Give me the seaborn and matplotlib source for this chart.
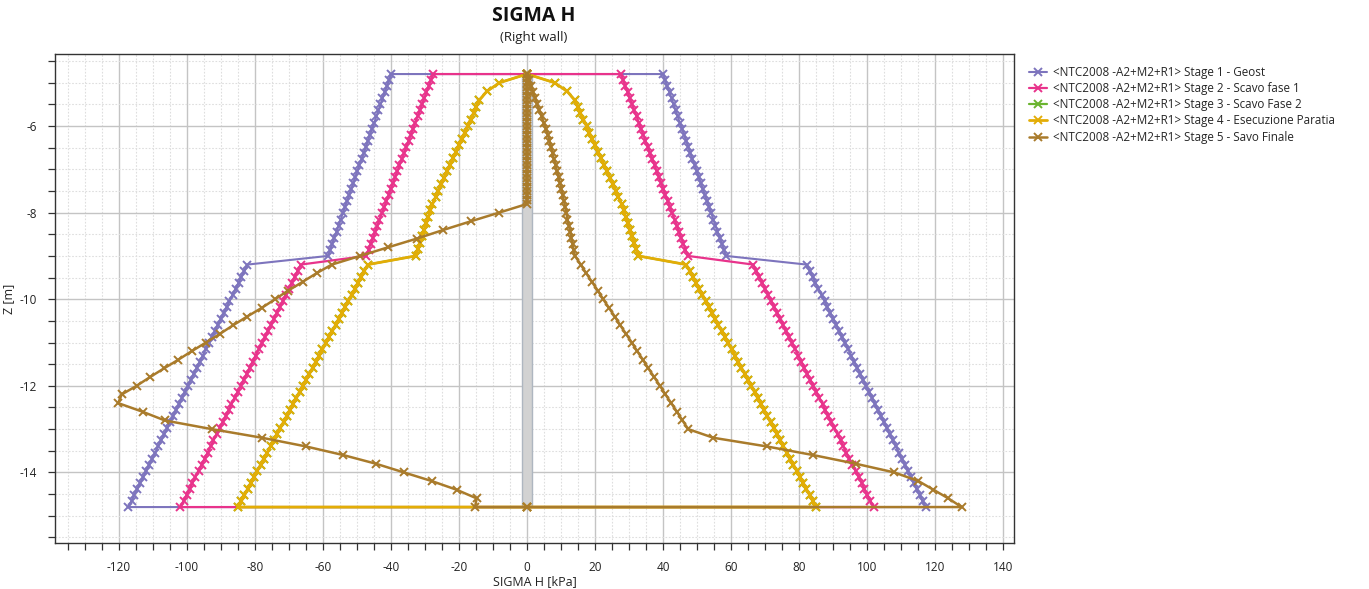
import matplotlib
matplotlib.use("Agg")
import matplotlib.pyplot as plt
from matplotlib.ticker import MultipleLocator
import pandas as pd
import seaborn as sns

# ---------------------------------------------------------------------------
# Wall geometry [m]
WALL_TOP = -4.8
WALL_BOTTOM = -14.8
WALL_HALF_WIDTH = 1.5  # drawn width of the wall strip, in kPa units

# Node depths [m]
Z_UPPER = [-4.80, -4.94, -5.08, -5.22, -5.36, -5.50, -5.64, -5.78, -5.92, -6.06,
           -6.20, -6.34, -6.48, -6.62, -6.76, -6.90, -7.04, -7.18, -7.32, -7.46,
           -7.60, -7.74, -7.88, -8.02, -8.16, -8.30, -8.44, -8.58, -8.72, -8.86,
           -9.00]
Z_LOWER = [-9.20, -9.34, -9.48, -9.62, -9.76, -9.90, -10.04, -10.18, -10.32, -10.46,
           -10.60, -10.74, -10.88, -11.02, -11.16, -11.30, -11.44, -11.58, -11.72, -11.86,
           -12.00, -12.14, -12.28, -12.42, -12.56, -12.70, -12.84, -12.98, -13.12, -13.26,
           -13.40, -13.54, -13.68, -13.82, -13.96, -14.10, -14.24, -14.38, -14.52, -14.66,
           -14.80]
Z_STAGE4_UPPER = [-4.80, -5.00, -5.20, -5.40, -5.55, -5.70, -5.85, -6.00, -6.15, -6.30,
                  -6.45, -6.60, -6.75, -6.90, -7.05, -7.20, -7.35, -7.50, -7.65, -7.80,
                  -7.95, -8.10, -8.25, -8.40, -8.55, -8.70, -8.85, -9.00]
Z_STAGE5_WALL = [-4.8, -4.9, -5.0, -5.1, -5.2, -5.3, -5.4, -5.5, -5.6, -5.7,
                 -5.8, -5.9, -6.0, -6.1, -6.2, -6.3, -6.4, -6.5, -6.6, -6.7,
                 -6.8, -6.9, -7.0, -7.1, -7.2, -7.3, -7.4, -7.5, -7.6, -7.7, -7.8]
Z_COARSE = [-7.8, -8.0, -8.2, -8.4, -8.6, -8.8, -9.0, -9.2, -9.4, -9.6,
            -9.8, -10.0, -10.2, -10.4, -10.6, -10.8, -11.0, -11.2, -11.4, -11.6,
            -11.8, -12.0, -12.2, -12.4, -12.6, -12.8, -13.0, -13.2, -13.4, -13.6,
            -13.8, -14.0, -14.2, -14.4, -14.6, -14.8]

# |SIGMA H| [kPa] -- stages 1 to 4 act equally on both faces of the wall
S1_UPPER = [40.0, 40.6, 41.2, 41.9, 42.5, 43.1, 43.7, 44.3, 44.9, 45.6,
            46.2, 46.8, 47.4, 48.0, 48.6, 49.3, 49.9, 50.5, 51.1, 51.7,
            52.3, 53.0, 53.6, 54.2, 54.8, 55.4, 56.0, 56.7, 57.3, 57.9, 58.5]
S1_LOWER = [82.2, 83.1, 84.0, 84.8, 85.7, 86.6, 87.5, 88.3, 89.2, 90.1,
            91.0, 91.8, 92.7, 93.6, 94.5, 95.3, 96.2, 97.1, 98.0, 98.8,
            99.7, 100.6, 101.5, 102.3, 103.2, 104.1, 105.0, 105.8, 106.7, 107.6,
            108.5, 109.3, 110.2, 111.1, 112.0, 112.8, 113.7, 114.6, 115.5, 116.3, 117.2]

S2_UPPER = [27.6, 28.3, 28.9, 29.6, 30.2, 30.9, 31.5, 32.2, 32.9, 33.5,
            34.2, 34.8, 35.5, 36.1, 36.8, 37.5, 38.1, 38.8, 39.4, 40.1,
            40.7, 41.4, 42.0, 42.7, 43.4, 44.0, 44.7, 45.3, 46.0, 46.6, 47.3]
S2_LOWER = [66.5, 67.4, 68.3, 69.2, 70.0, 70.9, 71.8, 72.7, 73.6, 74.5,
            75.3, 76.2, 77.1, 78.0, 78.9, 79.8, 80.7, 81.5, 82.4, 83.3,
            84.2, 85.1, 86.0, 86.9, 87.7, 88.6, 89.5, 90.4, 91.3, 92.2,
            93.0, 93.9, 94.8, 95.7, 96.6, 97.5, 98.4, 99.2, 100.1, 101.0, 101.9]

S4_UPPER = [0.0, 8.1, 11.8, 14.0, 14.9, 15.7, 16.6, 17.5, 18.3, 19.2,
            20.0, 20.9, 21.8, 22.6, 23.5, 24.4, 25.2, 26.1, 26.9, 27.8,
            28.4, 29.0, 29.6, 30.3, 30.9, 31.5, 32.1, 32.7]
S4_LOWER = [46.8, 47.8, 48.7, 49.7, 50.6, 51.6, 52.5, 53.5, 54.4, 55.4,
            56.3, 57.3, 58.3, 59.2, 60.2, 61.1, 62.1, 63.0, 64.0, 64.9,
            65.9, 66.9, 67.8, 68.8, 69.7, 70.7, 71.6, 72.6, 73.5, 74.5,
            75.4, 76.4, 77.4, 78.3, 79.3, 80.2, 81.2, 82.1, 83.1, 84.0, 85.0]

S3_UPPER = list(S4_UPPER)
S3_LOWER = list(S4_LOWER)

# Stage 5: left face (excavation side) on Z_COARSE, right face on Z_UPPER + Z_COARSE[6:]
S5_LEFT = [0.0, 8.2, 16.5, 24.6, 32.4, 40.8, 49.1, 57.4, 61.9, 66.0,
           70.2, 74.1, 78.0, 82.3, 86.4, 90.3, 94.4, 98.6, 102.6, 106.8,
           110.9, 114.8, 119.2, 120.2, 113.0, 106.5, 92.7, 77.9, 65.0, 54.0,
           44.4, 36.2, 28.0, 20.7, 14.8, 15.3]
S5_RIGHT_UPPER = [0.0, 0.6, 1.2, 1.8, 2.4, 3.0, 3.6, 4.3, 4.9, 5.5,
                  6.1, 6.6, 7.0, 7.5, 7.9, 8.4, 8.8, 9.3, 9.7, 10.1,
                  10.5, 10.9, 11.2, 11.6, 11.9, 12.3, 12.7, 13.0, 13.4, 13.7, 14.1]
S5_RIGHT_LOWER = [14.1, 15.8, 17.4, 19.1, 20.8, 22.4, 24.1, 25.8, 27.4, 29.1,
                  30.8, 32.4, 34.1, 35.7, 37.4, 39.1, 40.7, 42.4, 44.1, 45.7,
                  47.4, 54.8, 70.5, 84.2, 96.7, 108.0, 115.1, 119.5, 123.9, 127.8]

PREFIX = "<NTC2008 -A2+M2+R1> "
STAGE_LABELS = [PREFIX + "Stage 1 - Geost",
                PREFIX + "Stage 2 - Scavo fase 1",
                PREFIX + "Stage 3 - Scavo Fase 2",
                PREFIX + "Stage 4 - Esecuzione Paratia",
                PREFIX + "Stage 5 - Savo Finale"]
STAGE_COLORS = ["#7d74bd", "#e8338b", "#6ab42f", "#e3ad06", "#a97b2b"]
STAGE_LW = [1.5, 1.6, 1.6, 2.0, 1.8]


def symmetric_path(z_up, s_up, z_low, s_low):
    """Closed diagram: left face top->bottom (negative), right face bottom->top."""
    zs = list(z_up) + list(z_low)
    ss = list(s_up) + list(s_low)
    x = [0.0] + [-v for v in ss] + [0.0] + [v for v in reversed(ss)] + [0.0]
    z = [WALL_TOP] + zs + [WALL_BOTTOM] + list(reversed(zs)) + [WALL_TOP]
    return x, z


def stage5_path():
    x = [0.0] * len(Z_STAGE5_WALL) + [-v for v in S5_LEFT[1:]]
    z = list(Z_STAGE5_WALL) + list(Z_COARSE[1:])
    x += [0.0]
    z += [WALL_BOTTOM]
    z_right_low = Z_COARSE[6:]
    x += [v for v in reversed(S5_RIGHT_LOWER)]
    z += list(reversed(z_right_low))
    x += [v for v in reversed(S5_RIGHT_UPPER[:-1])]
    z += list(reversed(Z_UPPER[:-1]))
    return x, z


paths = [symmetric_path(Z_UPPER, S1_UPPER, Z_LOWER, S1_LOWER),
         symmetric_path(Z_UPPER, S2_UPPER, Z_LOWER, S2_LOWER),
         symmetric_path(Z_STAGE4_UPPER, S3_UPPER, Z_LOWER, S3_LOWER),
         symmetric_path(Z_STAGE4_UPPER, S4_UPPER, Z_LOWER, S4_LOWER),
         stage5_path()]

# ---------------------------------------------------------------------------
sns.set_theme(style="white")
plt.rcParams["font.family"] = ["Open Sans", "DejaVu Sans"]
plt.rcParams["axes.unicode_minus"] = False

fig = plt.figure(figsize=(13.69, 5.89), dpi=100)
ax = fig.add_axes([55 / 1369, 1 - 543 / 589, (1014 - 55) / 1369, (543 - 54) / 589])

# wall strip
ax.fill_betweenx([WALL_BOTTOM, WALL_TOP], -WALL_HALF_WIDTH, WALL_HALF_WIDTH,
                 facecolor="#d2d2d2", edgecolor="#aeb6c0", linewidth=1.0, zorder=1.5)

for i, (px, pz) in enumerate(paths):
    df = pd.DataFrame({"sigma": px, "z": pz})
    sns.lineplot(data=df, x="sigma", y="z", sort=False, estimator=None,
                 color=STAGE_COLORS[i], linewidth=STAGE_LW[i], marker="x",
                 markersize=5.5, markeredgewidth=1.4, markeredgecolor=STAGE_COLORS[i],
                 label=STAGE_LABELS[i], ax=ax, zorder=2 + i)

ax.set_xlim(-138.8, 143.2)
ax.set_ylim(-15.63, -4.337)

ax.xaxis.set_major_locator(MultipleLocator(20))
ax.xaxis.set_minor_locator(MultipleLocator(5))
ax.yaxis.set_major_locator(MultipleLocator(2))
ax.yaxis.set_minor_locator(MultipleLocator(0.5))

ax.grid(which="minor", color="#dedede", linestyle=(0, (1.5, 1.5)), linewidth=0.8, zorder=0)
ax.grid(which="major", color="#c4c4c4", linestyle="-", linewidth=1.0, zorder=0)
ax.set_axisbelow(True)

ax.tick_params(which="both", direction="out", length=5, width=0.9, color="#333333",
               left=True, bottom=True)
ax.tick_params(which="major", labelsize=8.5, labelcolor="#222222", pad=8)

for s in ax.spines.values():
    s.set_color("#333333")
    s.set_linewidth(1.0)

ax.set_xlabel("SIGMA H [kPa]", fontsize=9, color="#222222", labelpad=1)
ax.set_ylabel("Z [m]", fontsize=9, color="#222222")
ax.yaxis.set_label_coords(-0.042, 0.5)

fig.text(534 / 1369, 1 - 16 / 589, "SIGMA H", ha="center", va="center",
         fontsize=14, fontweight="bold", color="#111111")
fig.text(534 / 1369, 1 - 38 / 589, "(Right wall)", ha="center", va="center",
         fontsize=9.5, color="#222222")

handles, labels = ax.get_legend_handles_labels()
ax.legend(handles, labels, loc="upper left", bbox_to_anchor=(1024 / 1369, 1 - 61 / 589),
          bbox_transform=fig.transFigure, frameon=False, fontsize=8.4,
          handlelength=1.6, handletextpad=0.5, labelspacing=0.28, borderaxespad=0)

fig.savefig("out.png", dpi=100)
